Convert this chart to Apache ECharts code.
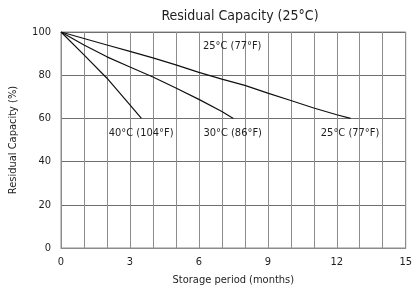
<!DOCTYPE html>
<html>
<head>
<meta charset="UTF-8">
<title>Residual Capacity</title>
<script src="https://cdn.jsdelivr.net/npm/echarts@6/dist/echarts.min.js"></script>
<style>
	html, body { margin: 0; padding: 0; background: #fff; }
	#main { width: 415px; height: 293px; }
</style>
</head>
<body>
	<div id="main"></div>
	<script>
		// months / residual capacity (%)
		var months40 = [0, 1, 2, 3, 3.5];
		var cap40 = [100, 89.4, 78.6, 66.3, 60];
		var months30 = [0, 1, 2, 3, 4, 5, 6, 7, 7.5];
		var cap30 = [100, 94, 88.5, 83.8, 79.2, 74.1, 68.8, 63.2, 60];
		var months25 = [0, 1, 2, 3, 4, 5, 6, 7, 8, 9, 10, 11, 12, 12.6];
		var cap25 = [100, 97, 94, 91, 88, 84.8, 81.3, 78.2, 75.3, 71.7, 68.3, 64.8, 61.7, 60];
		var xTicks = [0, 3, 6, 9, 12, 15];
		var yTicks = [0, 20, 40, 60, 80, 100];

		// curve labels, placed in data coordinates
		var notes = [
			{ text: '40°C (104°F)', x: 3.49, y: 53.4 },
			{ text: '30°C (86°F)', x: 7.47, y: 53.4 },
			{ text: '25°C (77°F)', x: 12.58, y: 53.4 },
			{ text: '25°C (77°F)', x: 7.45, y: 93.6 }
		];

		var fontName = 'DejaVu Sans Condensed, DejaVu Sans';
		var textColor = '#1e1e1e';

		function pairs(xs, ys) {
			var out = [];
			for (var i = 0; i < xs.length; i++) {
				out.push([xs[i], ys[i]]);
			}
			return out;
		}

		function lineSeries(name, xs, ys) {
			return {
				name: name,
				type: 'line',
				data: pairs(xs, ys),
				showSymbol: false,
				symbol: 'none',
				smooth: false,
				lineStyle: { color: '#111', width: 1.2 },
				z: 5
			};
		}

		var noteSeries = {
			type: 'scatter',
			symbolSize: 0,
			itemStyle: { opacity: 1 },
			data: notes.map(function (n) { return { value: [n.x, n.y], name: n.text }; }),
			label: {
				show: true,
				position: 'inside',
				formatter: '{b}',
				color: textColor,
				textBorderWidth: 0,
				textBorderColor: 'transparent',
				fontFamily: fontName,
				fontSize: 11
			},
			silent: true,
			z: 6
		};

		var myChart = echarts.init(document.getElementById('main'));
		var option = {
			animation: false,
			title: {
				text: 'Residual Capacity (25°C)',
				left: 235,
				textAlign: 'center',
				top: 4,
				textStyle: { fontFamily: fontName, fontSize: 14, fontWeight: 'normal', color: textColor }
			},
			grid: {
				left: 61,
				right: 6,
				top: 32,
				bottom: 45,
				show: true,
				borderColor: '#8c8c8c',
				borderWidth: 1
			},
			xAxis: {
				type: 'value',
				min: 0,
				max: 15,
				interval: 1,
				name: 'Storage period (months)',
				nameLocation: 'middle',
				nameGap: 27,
				nameTextStyle: { fontFamily: fontName, fontSize: 11, color: textColor },
				axisLine: { lineStyle: { color: '#8c8c8c' } },
				axisTick: { show: false },
				axisLabel: {
					fontFamily: fontName,
					fontSize: 11,
					color: textColor,
					margin: 9,
					formatter: function (v) { return xTicks.indexOf(v) >= 0 ? String(v) : ''; }
				},
				splitLine: { show: true, lineStyle: { color: '#8c8c8c', width: 1 } }
			},
			yAxis: {
				type: 'value',
				min: 0,
				max: 100,
				interval: 20,
				name: 'Residual Capacity (%)',
				nameLocation: 'middle',
				nameGap: 42,
				nameTextStyle: { fontFamily: fontName, fontSize: 11, color: textColor },
				axisLine: { show: true, lineStyle: { color: '#8c8c8c' } },
				axisTick: { show: false },
				axisLabel: {
					fontFamily: fontName,
					fontSize: 11,
					color: textColor,
					margin: 10,
					formatter: function (v) { return yTicks.indexOf(v) >= 0 ? String(v) : ''; }
				},
				splitLine: { show: true, lineStyle: { color: '#6e6e6e', width: 1 } }
			},
			series: [
				lineSeries('40°C', months40, cap40),
				lineSeries('30°C', months30, cap30),
				lineSeries('25°C', months25, cap25),
				noteSeries
			]
		};
		myChart.setOption(option);
	</script>
</body>
</html>
